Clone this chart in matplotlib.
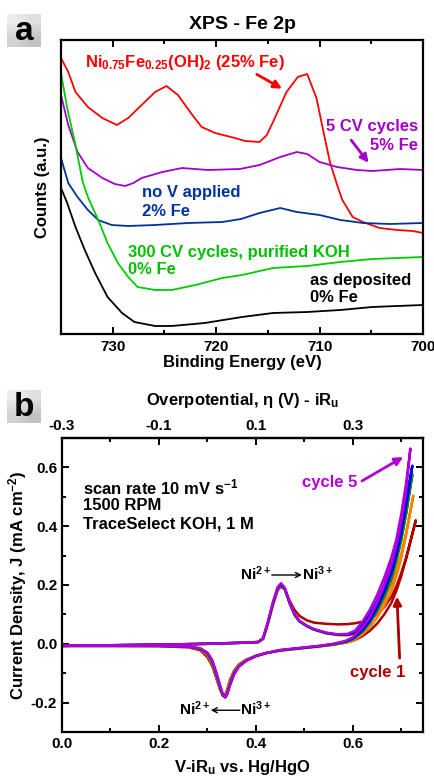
import numpy as np
import matplotlib
matplotlib.use('Agg')
import matplotlib.pyplot as plt
from matplotlib.ticker import MultipleLocator, FixedLocator, NullLocator
from matplotlib.colors import LinearSegmentedColormap

plt.rcParams.update({
    'font.family': ['Liberation Sans', 'DejaVu Sans'],
    'font.weight': 'bold',
    'axes.labelweight': 'bold',
    'axes.unicode_minus': False,
    'mathtext.fontset': 'custom',
    'mathtext.rm': 'Liberation Sans:bold',
    'mathtext.bf': 'Liberation Sans:bold',
    'mathtext.default': 'rm',
    'axes.linewidth': 1.6,
    'xtick.direction': 'in',
    'ytick.direction': 'in',
})

# ---- panel a: XPS Fe 2p (binding energy in eV, counts in a.u.) ----
e_red = [735.0, 734.3, 733.6, 732.4, 731.0, 729.6, 728.5, 726.9, 725.9, 724.8, 723.7,
         722.3, 721.4, 720.1, 718.2, 717.2, 715.8, 715.1, 714.5, 713.2, 712.1, 711.2,
         710.3, 709.7, 709.0, 708.3, 707.8, 706.8, 705.8, 704.2, 702.5, 701.0, 700.0]
c_red = [276, 262, 242, 227, 216, 209, 216, 232, 242, 248, 239,
         219, 207, 201, 196, 193, 192, 199, 212, 242, 257, 260,
         236, 206, 172, 149, 134, 117, 112, 106, 104, 103, 101]

e_purple = [735.0, 734.3, 733.4, 732.4, 731.0, 729.8, 728.8, 728.0, 727.2, 725.2, 723.3,
            720.8, 717.7, 715.8, 713.8, 712.2, 711.2, 710.0, 708.3, 706.4, 704.9, 702.2, 700.0]
c_purple = [239, 209, 182, 166, 156, 150, 148, 151, 156, 162, 166,
            164, 165, 169, 177, 182, 180, 172, 167, 164, 163, 165, 164]

e_blue = [735.0, 734.3, 733.4, 732.4, 731.4, 730.1, 728.5, 725.9, 722.7, 719.4,
          717.6, 715.8, 713.8, 712.2, 710.0, 708.0, 705.8, 703.2, 700.0]
c_blue = [176, 151, 137, 124, 114, 109, 108, 109, 111, 112,
          115, 121, 126, 122, 119, 114, 111, 110, 111]

e_green = [735.0, 734.4, 733.6, 732.9, 732.4, 731.4, 730.5, 729.5, 728.5, 727.6,
           725.9, 724.3, 722.0, 719.4, 717.5, 714.5, 711.2, 708.0, 704.9, 700.0]
c_green = [261, 226, 189, 152, 137, 114, 91, 71, 57, 47,
           44, 44, 49, 56, 59, 66, 68, 72, 75, 77]

e_black = [735.0, 734.4, 733.6, 732.7, 731.7, 730.5, 729.1, 727.9, 725.9, 724.3,
           721.1, 717.5, 714.5, 711.2, 708.0, 704.9, 700.0]
c_black = [146, 131, 107, 84, 61, 37, 21, 12, 8, 8,
           11, 17, 21, 22, 24, 27, 29]

# ---- panel b: CV cycles (V-iRu vs Hg/HgO, J in mA cm-2) ----
v_fwd = [0.0, 0.1, 0.2, 0.3, 0.38, 0.405, 0.415, 0.425, 0.435, 0.445, 0.452, 0.46,
         0.47, 0.48, 0.49, 0.505, 0.52, 0.545, 0.57, 0.59, 0.605, 0.62, 0.635, 0.65,
         0.665, 0.68, 0.69, 0.70, 0.71]
j_fwd_c1 = [-0.007, -0.005, -0.003, 0.0, 0.004, 0.006, 0.016, 0.068, 0.13, 0.182, 0.194, 0.185,
            0.145, 0.115, 0.095, 0.08, 0.072, 0.068, 0.066, 0.067, 0.07, 0.075, 0.085, 0.1,
            0.125, 0.16, 0.195, 0.24, 0.29]
j_fwd_c2 = [-0.007, -0.005, -0.003, 0.0, 0.004, 0.006, 0.017, 0.07, 0.132, 0.185, 0.196, 0.184,
            0.138, 0.1, 0.078, 0.061, 0.049, 0.036, 0.03, 0.029, 0.033, 0.048, 0.072, 0.105,
            0.148, 0.205, 0.25, 0.305, 0.375]
j_fwd_c3 = [-0.007, -0.005, -0.003, 0.0, 0.004, 0.006, 0.018, 0.072, 0.135, 0.188, 0.199, 0.185,
            0.137, 0.098, 0.076, 0.06, 0.048, 0.036, 0.03, 0.03, 0.037, 0.058, 0.09, 0.13,
            0.18, 0.245, 0.295, 0.36, 0.445]
j_fwd_c4 = [-0.007, -0.005, -0.003, 0.0, 0.004, 0.006, 0.019, 0.073, 0.137, 0.19, 0.202, 0.187,
            0.138, 0.099, 0.077, 0.061, 0.049, 0.037, 0.031, 0.031, 0.04, 0.065, 0.1, 0.145,
            0.2, 0.27, 0.325, 0.395, 0.48]
j_fwd_c5 = [-0.007, -0.005, -0.003, 0.0, 0.004, 0.006, 0.02, 0.075, 0.14, 0.193, 0.206, 0.19,
            0.14, 0.1, 0.078, 0.062, 0.05, 0.038, 0.032, 0.034, 0.045, 0.075, 0.115, 0.165,
            0.225, 0.295, 0.355, 0.44, 0.545]

# turning point of each cycle (cycle 1 .. cycle 5)
v_end = [0.730, 0.725, 0.723, 0.723, 0.719]
j_end = [0.419, 0.504, 0.576, 0.606, 0.664]

v_rev = [0.71, 0.70, 0.69, 0.68, 0.665, 0.65, 0.635, 0.62, 0.60, 0.585, 0.56, 0.53, 0.49,
         0.45, 0.42, 0.40, 0.38, 0.365, 0.355, 0.347, 0.341, 0.337, 0.332, 0.326, 0.318,
         0.31, 0.30, 0.285, 0.26, 0.2, 0.1, 0.0]
j_rev_c1 = [0.29, 0.23, 0.18, 0.14, 0.1, 0.068, 0.044, 0.026, 0.01, 0.004, -0.003, -0.009, -0.016,
            -0.023, -0.032, -0.041, -0.054, -0.07, -0.092, -0.122, -0.155, -0.172, -0.176, -0.155, -0.115,
            -0.075, -0.045, -0.022, -0.012, -0.008, -0.007, -0.007]
j_rev_c2 = [0.37, 0.29, 0.23, 0.18, 0.13, 0.088, 0.056, 0.032, 0.011, 0.004, -0.003, -0.009, -0.016,
            -0.023, -0.032, -0.041, -0.055, -0.072, -0.096, -0.128, -0.16, -0.176, -0.178, -0.152, -0.108,
            -0.068, -0.038, -0.019, -0.011, -0.007, -0.007, -0.007]
j_rev_c3 = [0.44, 0.35, 0.28, 0.22, 0.16, 0.11, 0.07, 0.04, 0.015, 0.006, -0.002, -0.008, -0.015,
            -0.022, -0.032, -0.042, -0.057, -0.076, -0.1, -0.135, -0.167, -0.18, -0.176, -0.147, -0.102,
            -0.062, -0.034, -0.017, -0.01, -0.007, -0.007, -0.007]
j_rev_c4 = [0.47, 0.375, 0.3, 0.24, 0.175, 0.12, 0.078, 0.046, 0.018, 0.008, -0.001, -0.008, -0.015,
            -0.022, -0.032, -0.042, -0.058, -0.077, -0.103, -0.138, -0.17, -0.182, -0.174, -0.143, -0.098,
            -0.058, -0.031, -0.016, -0.009, -0.007, -0.007, -0.007]
j_rev_c5 = [0.52, 0.415, 0.335, 0.27, 0.2, 0.14, 0.09, 0.055, 0.022, 0.01, 0.0, -0.007, -0.014,
            -0.021, -0.032, -0.042, -0.058, -0.078, -0.105, -0.14, -0.172, -0.183, -0.172, -0.14, -0.095,
            -0.055, -0.03, -0.015, -0.009, -0.007, -0.007, -0.007]

cycle_colors = ['#b00000', '#ff8000', '#009000', '#0000ff', '#b300d9']

W, H = 435, 776
fig = plt.figure(figsize=(W / 100, H / 100), dpi=100)


def px_axes(left, top, right, bottom):
    return fig.add_axes([left / W, 1 - bottom / H, (right - left) / W, (bottom - top) / H])


def panel_tag(left, top, letter):
    tag = px_axes(left, top, left + 34, top + 33)
    cmap = LinearSegmentedColormap.from_list('tag', ['#ececec', '#c2c2c2'])
    tag.imshow([[0.0, 0.3], [0.6, 1.0]], cmap=cmap, aspect='auto', interpolation='bilinear',
               extent=(0, 1, 0, 1))
    tag.set_axis_off()
    tag.text(0.5, 0.47, letter, fontsize=24, fontweight='bold', ha='center', va='center',
             transform=tag.transAxes)


def redox_label(ax, x_left, x_right, y, pointing):
    # "Ni2+ -> Ni3+" with a thin drawn arrow between the two ions
    ax.text(x_left, y, r'Ni$^{2+}$', fontsize=11, ha='right', va='center')
    ax.text(x_right, y, r'Ni$^{3+}$', fontsize=11, ha='left', va='center')
    if pointing == 'right':
        a, b = x_left, x_right
    else:
        a, b = x_right, x_left
    ax.annotate('', xy=(b, y - 0.004), xytext=(a, y - 0.004),
                arrowprops=dict(arrowstyle='->', color='black', lw=1.0, mutation_scale=9,
                                shrinkA=0, shrinkB=0))


# ---------------- panel a ----------------
ax1 = px_axes(61, 40, 423, 334)
ax1.plot(e_red, c_red, color='#ff0000', lw=1.3)
ax1.plot(e_purple, c_purple, color='#a300c8', lw=1.3)
ax1.plot(e_blue, c_blue, color='#003399', lw=1.3)
ax1.plot(e_green, c_green, color='#00cc00', lw=1.3)
ax1.plot(e_black, c_black, color='#000000', lw=1.3)
ax1.set_xlim(735, 700)
ax1.set_ylim(0, 294)
ax1.xaxis.set_major_locator(FixedLocator([730, 720, 710, 700]))
ax1.xaxis.set_minor_locator(MultipleLocator(5))
ax1.yaxis.set_major_locator(NullLocator())
ax1.tick_params(axis='x', which='both', top=True, labelsize=11, width=1.4, pad=4)
ax1.tick_params(axis='x', which='major', length=5)
ax1.tick_params(axis='x', which='minor', length=3)
ax1.set_xlabel('Binding Energy (eV)', fontsize=12, labelpad=1)
ax1.set_ylabel('Counts (a.u.)', fontsize=12, labelpad=8)
ax1.set_title('XPS - Fe 2p', fontsize=14, fontweight='bold', pad=8)

ax1.text(732.7, 272, r'Ni$_{0.75}$Fe$_{0.25}$(OH)$_2$ (25% Fe)', color='#ff0000',
         fontsize=12, ha='left', va='center')
ax1.annotate('', xy=(713.4, 244), xytext=(716.3, 261),
             arrowprops=dict(arrowstyle='-|>', color='#ff0000', lw=2, mutation_scale=12))
ax1.text(700.5, 207, '5 CV cycles', color='#a300c8', fontsize=12, ha='right', va='center')
ax1.text(700.5, 188, '5% Fe', color='#a300c8', fontsize=12, ha='right', va='center')
ax1.annotate('', xy=(705.1, 169), xytext=(707.1, 196),
             arrowprops=dict(arrowstyle='-|>', color='#a300c8', lw=2, mutation_scale=12))
ax1.text(727.2, 141, 'no V applied', color='#0033a0', fontsize=12, ha='left', va='center')
ax1.text(727.2, 122, '2% Fe', color='#0033a0', fontsize=12, ha='left', va='center')
ax1.text(728.5, 82, '300 CV cycles, purified KOH', color='#00c000', fontsize=12,
         ha='left', va='center')
ax1.text(728.5, 64, '0% Fe', color='#00c000', fontsize=12, ha='left', va='center')
ax1.text(710.9, 54, 'as deposited', color='black', fontsize=12, ha='left', va='center')
ax1.text(710.9, 36, '0% Fe', color='black', fontsize=12, ha='left', va='center')

# ---------------- panel b ----------------
ax2 = px_axes(62, 438, 423, 732)
cycles = [(j_fwd_c1, j_rev_c1), (j_fwd_c2, j_rev_c2), (j_fwd_c3, j_rev_c3),
          (j_fwd_c4, j_rev_c4), (j_fwd_c5, j_rev_c5)]
for k, (jf, jr) in enumerate(cycles):
    v = v_fwd + [v_end[k]] + v_rev
    j = jf + [j_end[k]] + jr
    ax2.plot(v, j, color=cycle_colors[k], lw=1.8)

ax2.set_xlim(0, 0.745)
ax2.set_ylim(-0.3, 0.7)
ax2.xaxis.set_major_locator(MultipleLocator(0.2))
ax2.xaxis.set_minor_locator(MultipleLocator(0.1))
ax2.yaxis.set_major_locator(FixedLocator([-0.2, 0.0, 0.2, 0.4, 0.6]))
ax2.yaxis.set_minor_locator(MultipleLocator(0.1))
ax2.xaxis.set_major_formatter(plt.FormatStrFormatter('%.1f'))
ax2.yaxis.set_major_formatter(plt.FormatStrFormatter('%.1f'))
ax2.tick_params(which='both', right=True, top=False, labelsize=11, width=1.4)
ax2.tick_params(which='major', length=5)
ax2.tick_params(which='minor', length=3)
ax2.set_xlabel(r'V-iR$_u$ vs. Hg/HgO', fontsize=12, labelpad=5)
ax2.set_ylabel(r'Current Density, J (mA cm$^{-2}$)', fontsize=12, labelpad=1)

top = ax2.secondary_xaxis('top', functions=(lambda v: v - 0.3, lambda e: e + 0.3))
top.xaxis.set_major_locator(FixedLocator([-0.3, -0.1, 0.1, 0.3]))
top.xaxis.set_minor_locator(FixedLocator([-0.2, 0.0, 0.2, 0.4]))
top.xaxis.set_major_formatter(plt.FormatStrFormatter('%.1f'))
top.tick_params(which='both', direction='in', labelsize=11, width=1.4)
top.tick_params(which='major', length=5)
top.tick_params(which='minor', length=3)
top.set_xlabel(u'Overpotential, \u03b7 (V) - iR$_u$', fontsize=12, labelpad=10)

ax2.text(0.043, 0.531, r'scan rate 10 mV s$^{-1}$', fontsize=12, ha='left', va='center')
ax2.text(0.043, 0.470, '1500 RPM', fontsize=12, ha='left', va='center')
ax2.text(0.043, 0.409, 'TraceSelect KOH, 1 M', fontsize=12, ha='left', va='center')
ax2.text(0.553, 0.549, 'cycle 5', color='#b300d9', fontsize=12, ha='center', va='center')
ax2.annotate('', xy=(0.709, 0.64), xytext=(0.614, 0.549),
             arrowprops=dict(arrowstyle='-|>', color='#b300d9', lw=2, mutation_scale=12))
ax2.text(0.652, -0.099, 'cycle 1', color='#b00000', fontsize=12, ha='center', va='center')
ax2.annotate('', xy=(0.691, 0.17), xytext=(0.697, -0.058),
             arrowprops=dict(arrowstyle='-|>', color='#b00000', lw=2, mutation_scale=12))
redox_label(ax2, 0.433, 0.495, 0.238, 'right')
redox_label(ax2, 0.307, 0.367, -0.222, 'left')

panel_tag(7, 14, 'a')
panel_tag(7, 390, 'b')

fig.savefig('out.png', dpi=100)
plt.close(fig)
